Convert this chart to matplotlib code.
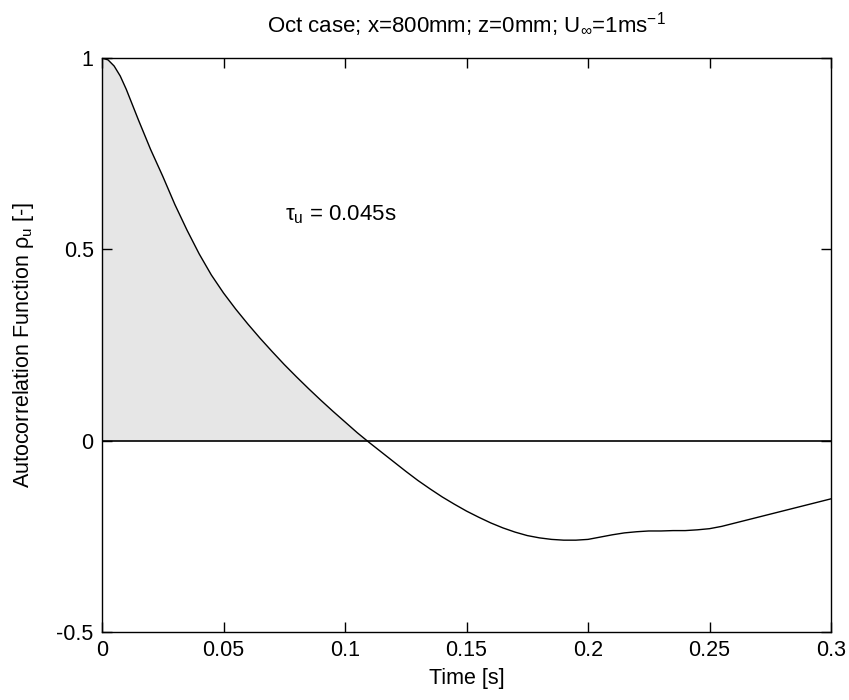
import numpy as np
import matplotlib
matplotlib.use("Agg")
import matplotlib.pyplot as plt

plt.rcParams['font.family'] = ['Liberation Sans', 'DejaVu Sans']
plt.rcParams['mathtext.fontset'] = 'custom'
plt.rcParams['mathtext.rm'] = 'Liberation Sans'
plt.rcParams['mathtext.it'] = 'Liberation Sans'
plt.rcParams['mathtext.bf'] = 'Liberation Sans'

# Data (time lag [s], autocorrelation)
time_s = [0.000, 0.0025, 0.005, 0.0075, 0.010, 0.015, 0.020, 0.025, 0.030, 0.035, 0.040, 0.045,
          0.050, 0.055, 0.060, 0.065, 0.070, 0.075, 0.080, 0.085, 0.090, 0.095,
          0.100, 0.105, 0.110, 0.115, 0.120, 0.125, 0.130, 0.135, 0.140, 0.145,
          0.150, 0.155, 0.160, 0.165, 0.170, 0.175, 0.180, 0.185, 0.190, 0.195,
          0.200, 0.205, 0.210, 0.215, 0.220, 0.225, 0.230, 0.235, 0.240, 0.245,
          0.250, 0.255, 0.260, 0.265, 0.270, 0.275, 0.280, 0.285, 0.290, 0.295,
          0.300]
rho_u = [1.000, 0.995, 0.979, 0.953, 0.918, 0.838, 0.761, 0.691, 0.617, 0.550, 0.488, 0.433,
         0.386, 0.344, 0.305, 0.268, 0.233, 0.199, 0.167, 0.136, 0.106, 0.077,
         0.049, 0.021, -0.005, -0.030, -0.055, -0.080, -0.104, -0.126, -0.147, -0.166,
         -0.184, -0.200, -0.215, -0.228, -0.239, -0.248, -0.254, -0.258, -0.260, -0.260,
         -0.258, -0.252, -0.246, -0.241, -0.238, -0.236, -0.236, -0.235, -0.235, -0.233,
         -0.230, -0.224, -0.216, -0.208, -0.200, -0.192, -0.184, -0.176, -0.168, -0.160,
         -0.152]
x_ticks = [0, 0.05, 0.1, 0.15, 0.2, 0.25, 0.3]
x_ticklabels = ['0', '0.05', '0.1', '0.15', '0.2', '0.25', '0.3']
y_ticks = [-0.5, 0, 0.5, 1]
y_ticklabels = ['-0.5', '0', '0.5', '1']
tau_text = r'$\tau_u$ = 0.045s'
title_text = r'Oct case; x=800mm; z=0mm; U$_\infty$=1ms$^{-1}$'

t = np.array(time_s)
r = np.array(rho_u)

W, H = 849, 700
fig = plt.figure(figsize=(W / 100, H / 100), dpi=100)
L, R, T, B = 102, 831, 58, 632
ax = fig.add_axes([L / W, 1 - B / H, (R - L) / W, (B - T) / H])

fs = 15.5
ax.fill_between(t, r, 0, where=(r >= 0), interpolate=True, color='#e6e6e6', linewidth=0)
ax.plot(t, r, color='black', linewidth=1.0)
ax.axhline(0, color='black', linewidth=1.2)

ax.set_xlim(0, 0.3)
ax.set_ylim(-0.5, 1)
ax.set_xticks(x_ticks)
ax.set_xticklabels(x_ticklabels)
ax.set_yticks(y_ticks)
ax.set_yticklabels(y_ticklabels)
ax.tick_params(direction='in', length=7, width=1, top=True, right=True,
               labelsize=fs, pad=6)
for s in ax.spines.values():
    s.set_linewidth(1.0)

ax.text(0.0753, 0.59, tau_text, fontsize=16, ha='left', va='center')

ax.set_xlabel('Time [s]', fontsize=fs)
ax.xaxis.set_label_coords(0.5, -0.063)
fig.text(24 / W, 1 - 345 / H, r'Autocorrelation Function $\rho_u$ [-]',
         rotation=90, ha='center', va='center', fontsize=fs)
fig.text((L + R) / 2 / W, 1 - 25 / H, title_text, ha='center', va='center', fontsize=16)

fig.savefig('out.png', dpi=100)
